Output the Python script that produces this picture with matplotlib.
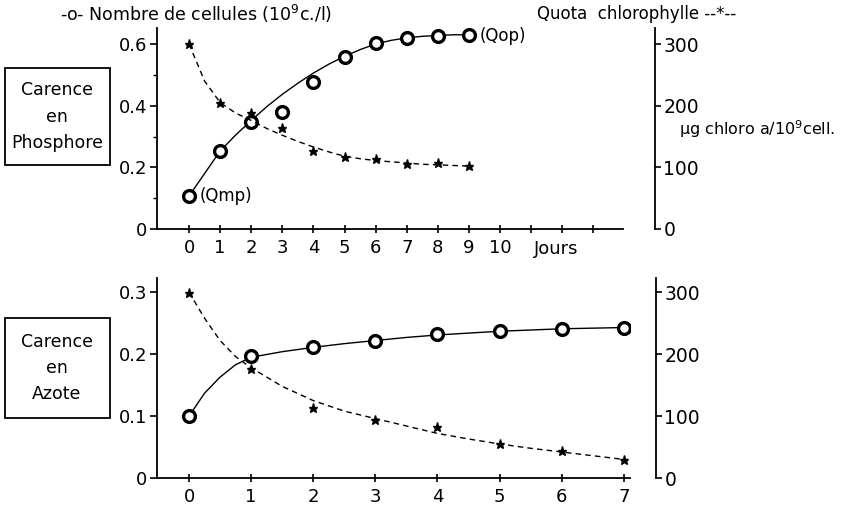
import matplotlib.pyplot as plt
import numpy as np
from matplotlib.ticker import MultipleLocator
from matplotlib.patches import Rectangle

plt.rcParams['font.family'] = ['DejaVu Sans']
plt.rcParams['font.size'] = 12

# Phosphore (top panel)
P_days = [0, 1, 2, 3, 4, 5, 6, 7, 8, 9]
P_cells = [0.107, 0.253, 0.347, 0.38, 0.477, 0.558, 0.603, 0.62, 0.627, 0.63]
P_chloro = [300, 204, 188, 164, 127, 117, 113, 106, 107, 102]
# drawn curves
P_curve_x = [0, 0.5, 1, 1.5, 2, 2.5, 3, 3.5, 4, 4.5, 5, 5.5, 6, 6.5, 7, 7.5, 8, 8.5, 9]
P_cells_curve = [0.107, 0.18, 0.253, 0.305, 0.352, 0.397, 0.437, 0.473, 0.506, 0.535, 0.56, 0.582, 0.6, 0.612, 0.62, 0.625, 0.628, 0.63, 0.63]
P_chloro_curve = [300, 240, 205, 188, 176, 163, 152, 142, 133, 125, 118, 114, 111, 109, 107, 105, 104, 103, 102]

# Azote (bottom panel)
A_days = [0, 1, 2, 3, 4, 5, 6, 7]
A_cells = [0.1, 0.197, 0.211, 0.222, 0.232, 0.237, 0.241, 0.243]
A_chloro = [298, 176, 113, 94, 82, 55, 44, 29]
A_curve_x = [0, 0.25, 0.5, 0.75, 1, 1.5, 2, 2.5, 3, 3.5, 4, 4.5, 5, 5.5, 6, 6.5, 7]
A_cells_curve = [0.1, 0.137, 0.163, 0.183, 0.195, 0.204, 0.211, 0.217, 0.222, 0.227, 0.231, 0.234, 0.237, 0.239, 0.241, 0.242, 0.243]
A_chloro_curve = [300, 258, 222, 196, 178, 148, 125, 108, 96, 84, 72, 63, 55, 48, 42, 36, 30]

fig = plt.figure(figsize=(8.45, 5.07), dpi=100)


def style_axes(ax, ax2, offset):
    for s in ['top', 'right']:
        ax.spines[s].set_visible(False)
    for s in ['top', 'left', 'bottom']:
        ax2.spines[s].set_visible(False)
    ax2.spines['right'].set_position(('axes', offset))
    for a in (ax, ax2):
        for sp in a.spines.values():
            sp.set_linewidth(1.3)
    ax.tick_params(axis='y', direction='out', length=5, width=1.2, pad=2, labelsize=13)
    ax.tick_params(axis='y', which='minor', direction='out', length=3, width=1)
    ax.tick_params(axis='x', direction='inout', length=6, width=1.2, pad=4, labelsize=13)
    ax2.tick_params(axis='y', direction='out', length=4, width=1.2, pad=2, labelsize=13.5)


def draw(ax, ax2, days, cells, chloro, cx, ccells, cchloro):
    ax.plot(cx, ccells, color='black', lw=1.0, zorder=2)
    ax.plot(days, cells, 'o', ms=8.5, mfc='white', mec='black', mew=2.4, zorder=3)
    ax2.plot(cx, cchloro, color='black', lw=1.0, ls=(0, (4, 3)), zorder=2)
    ax2.plot(days, chloro, '*', ms=6.5, color='black', zorder=3)


# top panel
ax1 = fig.add_axes([157 / 845, 1 - 229 / 507, 466 / 845, 201 / 507])
ax1b = ax1.twinx()
draw(ax1, ax1b, P_days, P_cells, P_chloro, P_curve_x, P_cells_curve, P_chloro_curve)
ax1.set_xlim(-1.03, 13.95)
ax1.set_ylim(0, 0.652)
ax1b.set_ylim(0, 326)
ax1.set_xticks(range(0, 14))
ax1.set_xticklabels([str(i) if i <= 10 else '' for i in range(0, 14)])
ax1.set_yticks([0, 0.2, 0.4, 0.6])
ax1.set_yticklabels(['0', '0.2', '0.4', '0.6'])
ax1.yaxis.set_minor_locator(MultipleLocator(0.1))
ax1b.set_yticks([0, 100, 200, 300])
style_axes(ax1, ax1b, 1.069)
ax1.text(11.8, -0.035, 'Jours', ha='center', va='top', fontsize=13)
ax1.text(0.35, 0.107, '(Qmp)', ha='left', va='center', fontsize=12)
ax1.text(9.35, 0.625, '(Qop)', ha='left', va='center', fontsize=12)

# bottom panel
ax2 = fig.add_axes([157 / 845, 1 - 478 / 507, 473 / 845, 200 / 507])
ax2b = ax2.twinx()
draw(ax2, ax2b, A_days, A_cells, A_chloro, A_curve_x, A_cells_curve, A_chloro_curve)
ax2.set_xlim(-0.516, 7.1)
ax2.set_ylim(0, 0.323)
ax2b.set_ylim(0, 323)
ax2.set_xticks(range(0, 8))
ax2.set_yticks([0, 0.1, 0.2, 0.3])
ax2.set_yticklabels(['0', '0.1', '0.2', '0.3'])
ax2b.set_yticks([0, 100, 200, 300])
style_axes(ax2, ax2b, 1.055)

# headers
fig.text(60 / 845, 1 - 14 / 507, '-o- Nombre de cellules (10$^{9}$c./l)', ha='left', va='center', fontsize=12.5)
fig.text(537 / 845, 1 - 14 / 507, 'Quota  chlorophylle --*--', ha='left', va='center', fontsize=12)
fig.text(679 / 845, 1 - 129 / 507, 'µg chloro a/10$^{9}$cell.', ha='left', va='center', fontsize=11.5)

# boxed labels
for (y0, y1, label) in [(68, 165, 'Carence\nen\nPhosphore'), (318, 418, 'Carence\nen\nAzote')]:
    fig.patches.append(Rectangle((5 / 845, 1 - y1 / 507), 105 / 845, (y1 - y0) / 507,
                                 transform=fig.transFigure, fc='white', ec='black', lw=1.3))
    fig.text(57 / 845, 1 - (y0 + y1) / 2 / 507, label, ha='center', va='center',
             fontsize=12.5, linespacing=1.6)

fig.savefig('out.png', dpi=100)
